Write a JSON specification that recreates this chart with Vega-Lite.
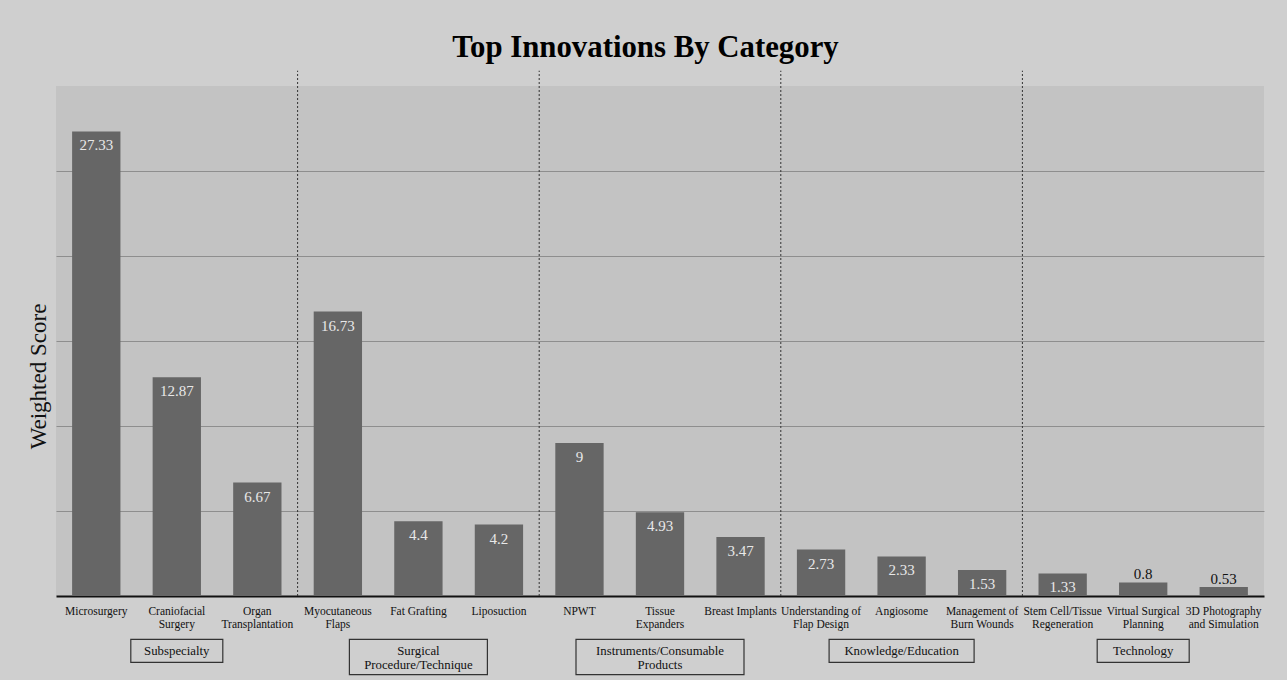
{
  "$schema": "https://vega.github.io/schema/vega-lite/v6.json",
  "width": 1208,
  "height": 510,
  "autosize": {"type": "none"},
  "padding": {"left": 56, "top": 86, "right": 23, "bottom": 84},
  "background": "#cfcfcf",
  "config": {"view": {"fill": "#c3c3c3", "stroke": null}, "font": "Liberation Serif"},
  "title": {"text": "Top Innovations By Category", "fontSize": 30.8, "fontWeight": "bold", "font": "Liberation Serif", "color": "#000", "anchor": "middle", "frame": "bounds", "offset": 6},
  "datasets": {
    "scores": [
      {"innovation": "Microsurgery", "score": 27.33},
      {"innovation": "Craniofacial|Surgery", "score": 12.87},
      {"innovation": "Organ|Transplantation", "score": 6.67},
      {"innovation": "Myocutaneous|Flaps", "score": 16.73},
      {"innovation": "Fat Grafting", "score": 4.4},
      {"innovation": "Liposuction", "score": 4.2},
      {"innovation": "NPWT", "score": 9},
      {"innovation": "Tissue|Expanders", "score": 4.93},
      {"innovation": "Breast Implants", "score": 3.47},
      {"innovation": "Understanding of|Flap Design", "score": 2.73},
      {"innovation": "Angiosome", "score": 2.33},
      {"innovation": "Management of|Burn Wounds", "score": 1.53},
      {"innovation": "Stem Cell/Tissue|Regeneration", "score": 1.33},
      {"innovation": "Virtual Surgical|Planning", "score": 0.8},
      {"innovation": "3D Photography|and Simulation", "score": 0.53}
    ],
    "seps": [
      {"innovation": "Organ|Transplantation"},
      {"innovation": "Liposuction"},
      {"innovation": "Breast Implants"},
      {"innovation": "Management of|Burn Wounds"}
    ],
    "groups": [
      {"innovation": "Craniofacial|Surgery", "group": "Subspecialty", "label": ["Subspecialty"], "lines": 1},
      {"innovation": "Fat Grafting", "group": "Surgical Procedure/Technique", "label": ["Surgical", "Procedure/Technique"], "lines": 2},
      {"innovation": "Tissue|Expanders", "group": "Instruments/Consumable Products", "label": ["Instruments/Consumable", "Products"], "lines": 2},
      {"innovation": "Angiosome", "group": "Knowledge/Education", "label": ["Knowledge/Education"], "lines": 1},
      {"innovation": "Virtual Surgical|Planning", "group": "Technology", "label": ["Technology"], "lines": 1}
    ]
  },
  "encoding": {
    "x": {
      "field": "innovation",
      "type": "nominal",
      "sort": null,
      "scale": {
        "type": "band",
        "domain": ["Microsurgery", "Craniofacial|Surgery", "Organ|Transplantation", "Myocutaneous|Flaps", "Fat Grafting", "Liposuction", "NPWT", "Tissue|Expanders", "Breast Implants", "Understanding of|Flap Design", "Angiosome", "Management of|Burn Wounds", "Stem Cell/Tissue|Regeneration", "Virtual Surgical|Planning", "3D Photography|and Simulation"],
        "paddingInner": 0.4,
        "paddingOuter": 0.2
      },
      "axis": {
        "title": null,
        "labelExpr": "split(datum.label, '|')",
        "labelAngle": 0,
        "labelFont": "Liberation Serif",
        "labelFontSize": 11.5,
        "labelColor": "#111",
        "labelLineHeight": 13.5,
        "labelPadding": 9,
        "ticks": false,
        "domain": true,
        "domainColor": "#111",
        "domainWidth": 2,
        "grid": false
      }
    }
  },
  "layer": [
    {
      "data": {"name": "scores"},
      "mark": {"type": "bar", "color": "#666666"},
      "encoding": {
        "y": {
          "field": "score",
          "type": "quantitative",
          "scale": {"domain": [0, 30], "nice": false},
          "axis": {
            "title": "Weighted Score",
            "titleFont": "Liberation Serif",
            "titleFontSize": 23,
            "titleFontWeight": "normal",
            "titleColor": "#111",
            "titlePadding": 6,
            "titleY": 290,
            "labels": false,
            "ticks": false,
            "domain": false,
            "grid": true,
            "gridColor": "#8e8e8e",
            "gridWidth": 1,
            "values": [5, 10, 15, 20, 25]
          }
        }
      }
    },
    {
      "data": {"name": "scores"},
      "transform": [{"filter": "datum.score >= 1"}],
      "mark": {"type": "text", "baseline": "top", "align": "center", "dy": 7, "fontSize": 15, "color": "#e8e8e8", "font": "Liberation Serif"},
      "encoding": {
        "y": {"field": "score", "type": "quantitative"},
        "text": {"field": "score", "type": "nominal"}
      }
    },
    {
      "data": {"name": "scores"},
      "transform": [{"filter": "datum.score < 1"}],
      "mark": {"type": "text", "baseline": "alphabetic", "align": "center", "dy": -3, "fontSize": 15, "color": "#111", "font": "Liberation Serif"},
      "encoding": {
        "y": {"field": "score", "type": "quantitative"},
        "text": {"field": "score", "type": "nominal"}
      }
    },
    {
      "data": {"name": "seps"},
      "mark": {"type": "rule", "color": "#333", "strokeWidth": 1, "strokeDash": [2, 2]},
      "encoding": {
        "x": {"field": "innovation", "type": "nominal", "bandPosition": 1.3333},
        "y": {"datum": 0},
        "y2": {"datum": 30.9}
      }
    },
    {
      "data": {"name": "groups"},
      "transform": [{"filter": "datum.lines == 1"}],
      "mark": {"type": "bar", "fill": "transparent", "stroke": "#333", "strokeWidth": 1.2},
      "encoding": {
        "y": {"datum": -2.55},
        "y2": {"datum": -3.91},
        "size": {"field": "group", "type": "nominal", "legend": null, "scale": {"type": "ordinal", "domain": ["Subspecialty", "Surgical Procedure/Technique", "Instruments/Consumable Products", "Knowledge/Education", "Technology"], "range": [92, 138, 168, 145, 92]}}
      }
    },
    {
      "data": {"name": "groups"},
      "transform": [{"filter": "datum.lines == 2"}],
      "mark": {"type": "bar", "fill": "transparent", "stroke": "#333", "strokeWidth": 1.2},
      "encoding": {
        "y": {"datum": -2.55},
        "y2": {"datum": -4.62},
        "size": {"field": "group", "type": "nominal", "legend": null, "scale": {"type": "ordinal", "domain": ["Subspecialty", "Surgical Procedure/Technique", "Instruments/Consumable Products", "Knowledge/Education", "Technology"], "range": [92, 138, 168, 145, 92]}}
      }
    },
    {
      "data": {"name": "groups"},
      "mark": {"type": "text", "baseline": "middle", "align": "center", "fontSize": 12.8, "lineHeight": 14, "color": "#111", "font": "Liberation Serif"},
      "encoding": {
        "y": {"datum": -3.24},
        "text": {"field": "label"}
      }
    }
  ]
}
